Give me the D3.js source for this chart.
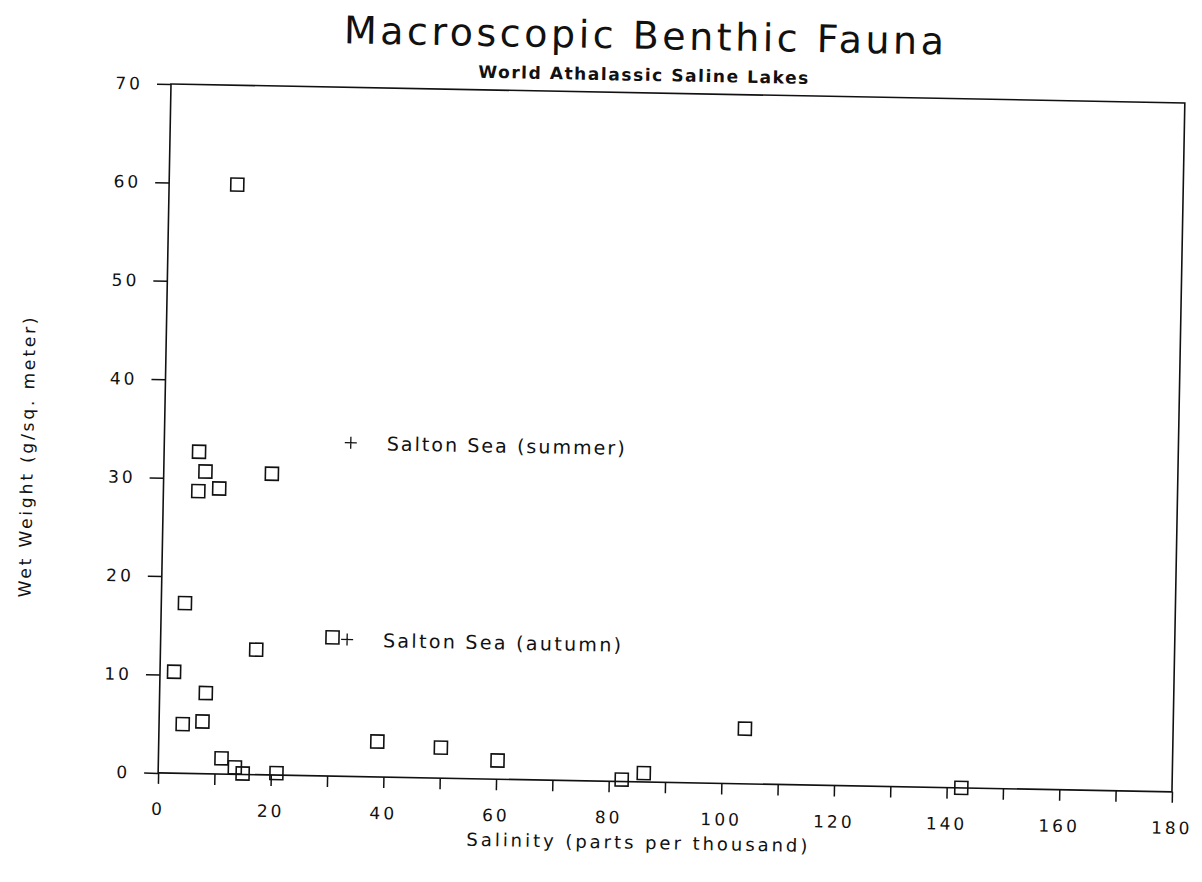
<!DOCTYPE html>
<html lang="en">
<head>
    <meta charset="UTF-8">
    <title>Macroscopic Benthic Fauna</title>
    <script src="https://d3js.org/d3.v7.min.js"></script>
    <style>
        body {
            margin: 0;
            background: #fff;
            font-family: "DejaVu Sans", sans-serif;
        }
        svg text {
            fill: #111;
        }
    </style>
</head>
<body>
<script>
    // squares: lakes
    const salinity = [12.1, 6.2, 7.4, 6.2, 9.9, 19.2, 4.2, 17.0, 30.5, 2.5, 8.2, 4.2, 7.7,
                      38.8, 11.2, 13.6, 15.0, 21.0, 50.1, 60.2, 82.3, 86.2, 104.0, 142.6];
    const wetWeight = [59.9, 32.7, 30.7, 28.7, 29.0, 30.6, 17.3, 12.7, 14.1, 10.3, 8.2, 5.0, 5.3,
                       3.6, 1.6, 0.7, 0.1, 0.2, 3.1, 1.9, 0.2, 0.9, 5.6, 0.0];
    // plus marks: Salton Sea
    const saltonNames = ["Salton Sea (summer)", "Salton Sea (autumn)"];
    const saltonSalinity = [33.1, 33.1];
    const saltonWeight = [33.9, 13.9];

    const xTicks = d3.range(0, 181, 10);
    const yTicks = d3.range(0, 71, 10);

    const width = 1202, height = 882;
    const plotLeft = 171, plotTop = 84, plotW = 1014, plotH = 689;

    const svg = d3.select("body").append("svg")
        .attr("width", width)
        .attr("height", height);

    // the scan is tilted a bit, so draw the whole thing turned
    const g = svg.append("g").attr("transform", `rotate(1.07,${plotLeft},${plotTop})`);

    const x = d3.scaleLinear().domain([0, 180]).range([plotLeft, plotLeft + plotW]);
    const y = d3.scaleLinear().domain([0, 70]).range([plotTop + plotH, plotTop]);

    g.append("rect")
        .attr("x", plotLeft).attr("y", plotTop)
        .attr("width", plotW).attr("height", plotH)
        .attr("fill", "none")
        .attr("stroke", "#111")
        .attr("stroke-width", 1.6);

    const xAxis = g.append("g")
        .attr("transform", `translate(0,${plotTop + plotH})`)
        .call(d3.axisBottom(x)
            .tickValues(xTicks)
            .tickSize(11)
            .tickPadding(19)
            .tickFormat(d => d % 20 === 0 ? d : ""));

    const yAxis = g.append("g")
        .attr("transform", `translate(${plotLeft},0)`)
        .call(d3.axisLeft(y)
            .tickValues(yTicks)
            .tickSize(14)
            .tickPadding(14));

    [xAxis, yAxis].forEach(a => {
        a.select(".domain").remove();
        a.selectAll("line").attr("stroke", "#111").attr("stroke-width", 1.5);
        a.selectAll("text")
            .attr("font-family", "DejaVu Sans")
            .attr("font-size", 17)
            .attr("letter-spacing", 3)
            .attr("fill", "#111");
    });

    // squares
    const data = salinity.map((s, i) => ({s: s, w: wetWeight[i]}));
    const sq = 13;
    g.append("g").selectAll("rect")
        .data(data)
        .join("rect")
        .attr("x", d => x(d.s) - sq / 2)
        .attr("y", d => y(d.w) - sq / 2)
        .attr("width", sq)
        .attr("height", sq)
        .attr("fill", "none")
        .attr("stroke", "#111")
        .attr("stroke-width", 1.6);

    // salton sea plus marks and their labels
    const salton = saltonNames.map((n, i) => ({n: n, s: saltonSalinity[i], w: saltonWeight[i]}));
    const plus = g.append("g").selectAll("g")
        .data(salton)
        .join("g")
        .attr("transform", d => `translate(${x(d.s)},${y(d.w)})`);
    plus.append("path")
        .attr("d", "M-6,0H6M0,-6V6")
        .attr("stroke", "#111")
        .attr("stroke-width", 1.3);
    plus.append("text")
        .attr("x", 36)
        .attr("y", 7)
        .attr("font-size", 19)
        .attr("textLength", 238)
        .attr("lengthAdjust", "spacing")
        .text(d => d.n);

    // titles
    g.append("text")
        .attr("x", 643).attr("y", 40)
        .attr("text-anchor", "middle")
        .attr("font-size", 38)
        .attr("textLength", 600)
        .attr("lengthAdjust", "spacing")
        .text("Macroscopic Benthic Fauna");

    g.append("text")
        .attr("x", 643).attr("y", 72)
        .attr("text-anchor", "middle")
        .attr("font-size", 17)
        .attr("font-weight", "bold")
        .attr("textLength", 330)
        .attr("lengthAdjust", "spacing")
        .text("World Athalassic Saline Lakes");

    g.append("text")
        .attr("x", 651).attr("y", 840)
        .attr("text-anchor", "middle")
        .attr("font-size", 18)
        .attr("textLength", 341)
        .attr("lengthAdjust", "spacing")
        .text("Salinity (parts per thousand)");

    g.append("text")
        .attr("transform", "translate(40,460) rotate(-90)")
        .attr("text-anchor", "middle")
        .attr("font-size", 17)
        .attr("textLength", 280)
        .attr("lengthAdjust", "spacing")
        .text("Wet Weight (g/sq. meter)");
</script>
</body>
</html>
